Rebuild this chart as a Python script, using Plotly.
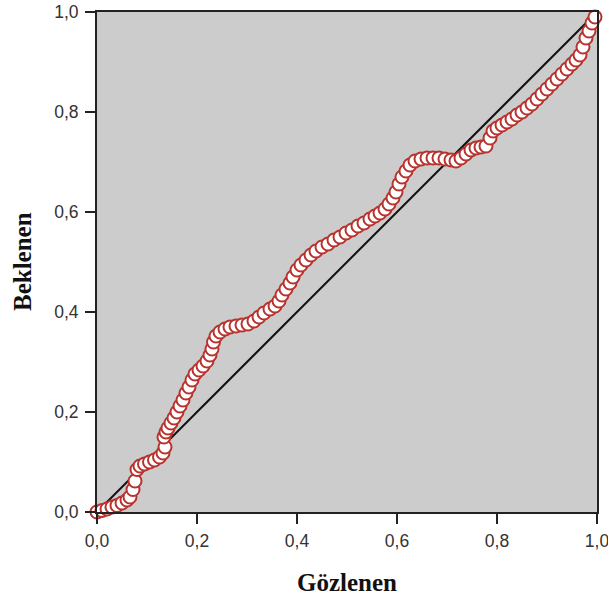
import plotly.graph_objects as go

observed = [0.000, 0.010, 0.020, 0.030, 0.040, 0.050, 0.060, 0.066, 0.072, 0.076,
            0.080, 0.086, 0.095, 0.105, 0.115, 0.125, 0.132, 0.136, 0.134, 0.138,
            0.142, 0.148, 0.154, 0.160, 0.166, 0.172, 0.178, 0.184, 0.190, 0.196,
            0.204, 0.212, 0.220, 0.226, 0.230, 0.233, 0.238, 0.246, 0.256, 0.266,
            0.278, 0.290, 0.302, 0.314, 0.324, 0.334, 0.346, 0.356, 0.364, 0.370,
            0.378, 0.386, 0.392, 0.400, 0.408, 0.418, 0.428, 0.438, 0.450, 0.462,
            0.474, 0.486, 0.498, 0.510, 0.522, 0.534, 0.546, 0.556, 0.566, 0.576,
            0.584, 0.592, 0.598, 0.604, 0.610, 0.618, 0.626, 0.636, 0.648, 0.660,
            0.672, 0.684, 0.696, 0.708, 0.718, 0.728, 0.738, 0.748, 0.758, 0.768,
            0.778, 0.786, 0.792, 0.800, 0.810, 0.820, 0.830, 0.840, 0.850, 0.860,
            0.870, 0.880, 0.890, 0.900, 0.910, 0.920, 0.930, 0.940, 0.950, 0.958,
            0.966, 0.972, 0.978, 0.984, 0.990, 0.996]
expected = [0.000, 0.003, 0.006, 0.010, 0.013, 0.018, 0.024, 0.030, 0.045, 0.062,
            0.085, 0.092, 0.096, 0.100, 0.104, 0.110, 0.118, 0.130, 0.150, 0.160,
            0.168, 0.178, 0.188, 0.200, 0.212, 0.224, 0.238, 0.250, 0.264, 0.276,
            0.284, 0.292, 0.302, 0.314, 0.326, 0.340, 0.352, 0.360, 0.366, 0.370,
            0.372, 0.374, 0.376, 0.382, 0.390, 0.398, 0.406, 0.412, 0.422, 0.434,
            0.446, 0.458, 0.470, 0.484, 0.494, 0.504, 0.514, 0.522, 0.530, 0.536,
            0.544, 0.550, 0.558, 0.564, 0.572, 0.578, 0.586, 0.592, 0.598, 0.606,
            0.616, 0.628, 0.640, 0.656, 0.670, 0.682, 0.694, 0.702, 0.706, 0.708,
            0.708, 0.708, 0.706, 0.704, 0.702, 0.708, 0.716, 0.724, 0.728, 0.730,
            0.732, 0.748, 0.762, 0.768, 0.774, 0.780, 0.786, 0.794, 0.800, 0.808,
            0.816, 0.826, 0.836, 0.846, 0.856, 0.866, 0.876, 0.886, 0.896, 0.904,
            0.914, 0.930, 0.948, 0.962, 0.978, 0.990]

ref_line = [0.0, 1.0]
tick_vals = [0.0, 0.2, 0.4, 0.6, 0.8, 1.0]
tick_text = ["0,0", "0,2", "0,4", "0,6", "0,8", "1,0"]
x_title = "Gözlenen"
y_title = "Beklenen"

fig = go.Figure()
fig.add_trace(go.Scatter(x=ref_line, y=ref_line, mode="lines",
                         line=dict(color="#111111", width=2), hoverinfo="skip",
                         showlegend=False))
fig.add_trace(go.Scatter(x=observed, y=expected, mode="markers",
                         marker=dict(symbol="circle", size=13, color="white",
                                     line=dict(color="#b8322e", width=2)),
                         cliponaxis=False, showlegend=False))

axis_common = dict(range=[0, 1], tickvals=tick_vals, ticktext=tick_text,
                   showline=True, linecolor="#222222", linewidth=2, mirror=True,
                   ticks="outside", ticklen=10, tickwidth=1.5, tickcolor="#222222",
                   showgrid=False, zeroline=False, automargin=False,
                   ticklabeloverflow="allow",
                   tickfont=dict(family="Liberation Sans, Arial", size=17.5, color="#333333"))

title_font = dict(family="Liberation Serif, Times New Roman", size=25, color="#111111")

fig.update_layout(
    width=608, height=598,
    margin=dict(l=97, r=11, t=12, b=86),
    paper_bgcolor="white", plot_bgcolor="#cccccc",
    xaxis=dict(**axis_common, ticklabelstandoff=2),
    yaxis=dict(**axis_common, ticklabelstandoff=3),
    annotations=[
        dict(text="<b>" + x_title + "</b>", xref="paper", yref="paper", x=0.5, y=0,
             xanchor="center", yanchor="middle", yshift=-70, showarrow=False,
             font=title_font),
        dict(text="<b>" + y_title + "</b>", xref="paper", yref="paper", x=0, y=0.5,
             xanchor="center", yanchor="middle", xshift=-75, textangle=-90,
             showarrow=False, font=title_font),
    ],
)

fig.write_html("out.html")
